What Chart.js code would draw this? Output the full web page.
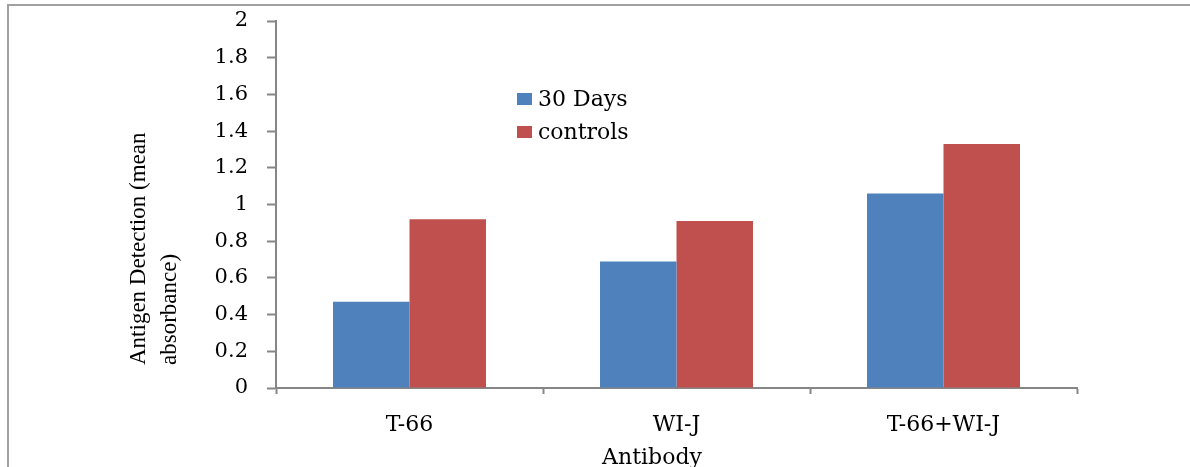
<!DOCTYPE html>
<html>
<head>
<meta charset="utf-8">
<script src="https://cdn.jsdelivr.net/npm/chart.js@4.4.1/dist/chart.umd.min.js"></script>
<style>
    body { margin: 0; background: #fff; }
    #wrap { width: 1190px; height: 467px; position: relative; }
</style>
</head>
<body>
<div id="wrap"><canvas id="antigenChart" width="1190" height="467"></canvas></div>
<script>
// Chart data
const antibodies = ['T-66', 'WI-J', 'T-66+WI-J'];
const days30 = [0.47, 0.69, 1.06];
const controls = [0.92, 0.91, 1.33];
const yTickLabels = ['0', '0.2', '0.4', '0.6', '0.8', '1', '1.2', '1.4', '1.6', '1.8', '2'];
const yTitleLines = ['Antigen Detection (mean', 'absorbance)'];
const xTitle = 'Antibody';

const axisGray = '#868686';
const textColor = '#000';
const tickFont = { family: 'DejaVu Serif', size: 21 };

// Frame, legend and axis titles drawn by hand to match the original placement
const extrasPlugin = {
    id: 'extras',
    beforeDraw(chart) {
        const ctx = chart.ctx;
        ctx.save();
        ctx.strokeStyle = '#a0a0a0';
        ctx.lineWidth = 2;
        ctx.beginPath();
        ctx.moveTo(8, 467);
        ctx.lineTo(8, 5);
        ctx.lineTo(1190, 5);
        ctx.stroke();
        ctx.restore();
    },
    afterDraw(chart) {
        const ctx = chart.ctx;
        ctx.save();
        ctx.fillStyle = textColor;

        // y title, two lines, rotated
        ctx.font = '23px "Liberation Serif"';
        ctx.textAlign = 'left';
        ctx.textBaseline = 'alphabetic';
        ctx.translate(0, 365);
        ctx.rotate(-Math.PI / 2);
        ctx.fillText(yTitleLines[0], 0, 145);
        ctx.fillText(yTitleLines[1], 0, 176);
        ctx.setTransform(1, 0, 0, 1, 0, 0);

        // x title
        ctx.font = '22px "DejaVu Serif"';
        ctx.textAlign = 'center';
        ctx.fillText(xTitle, 652, 464);

        // legend
        ctx.textAlign = 'left';
        ctx.textBaseline = 'middle';
        chart.data.datasets.forEach((ds, i) => {
            const y = 99 + i * 33;
            ctx.fillStyle = ds.backgroundColor;
            ctx.fillRect(517, y - 6, 15, 12);
            ctx.fillStyle = textColor;
            ctx.fillText(ds.label, 538, y + 1);
        });
        ctx.restore();
    }
};

document.addEventListener('DOMContentLoaded', function() {
    const ctx = document.getElementById('antigenChart').getContext('2d');
    new Chart(ctx, {
        type: 'bar',
        data: {
            labels: antibodies,
            datasets: [
                {
                    label: '30 Days',
                    data: days30,
                    backgroundColor: '#4f81bd',
                    borderWidth: 0
                },
                {
                    label: 'controls',
                    data: controls,
                    backgroundColor: '#c0504d',
                    borderWidth: 0
                }
            ]
        },
        options: {
            responsive: false,
            animation: false,
            layout: {
                padding: { left: 0, top: 21, right: 113, bottom: 0 }
            },
            plugins: {
                legend: { display: false },
                tooltip: { enabled: false }
            },
            datasets: {
                bar: {
                    categoryPercentage: 0.573,
                    barPercentage: 1.0
                }
            },
            scales: {
                x: {
                    afterFit(scale) {
                        scale.height = 79;
                        scale.paddingLeft = 0;
                        scale.paddingRight = 0;
                    },
                    ticks: { color: textColor, font: { family: 'DejaVu Serif', size: 22 }, padding: 18 },
                    grid: {
                        offset: true,
                        drawOnChartArea: false,
                        tickLength: 6,
                        tickWidth: 2,
                        tickColor: axisGray
                    },
                    border: { color: axisGray, width: 2 }
                },
                y: {
                    min: 0,
                    max: 2,
                    afterFit(scale) {
                        scale.width = 276;
                        scale.paddingTop = 0;
                        scale.paddingBottom = 0;
                    },
                    ticks: {
                        stepSize: 0.2,
                        color: textColor,
                        font: tickFont,
                        padding: 19,
                        callback: function(value, index) {
                            return yTickLabels[index];
                        }
                    },
                    grid: {
                        drawOnChartArea: false,
                        tickLength: 9,
                        tickWidth: 2,
                        tickColor: axisGray
                    },
                    border: { color: axisGray, width: 2 }
                }
            }
        },
        plugins: [extrasPlugin]
    });
});
</script>
</body>
</html>
